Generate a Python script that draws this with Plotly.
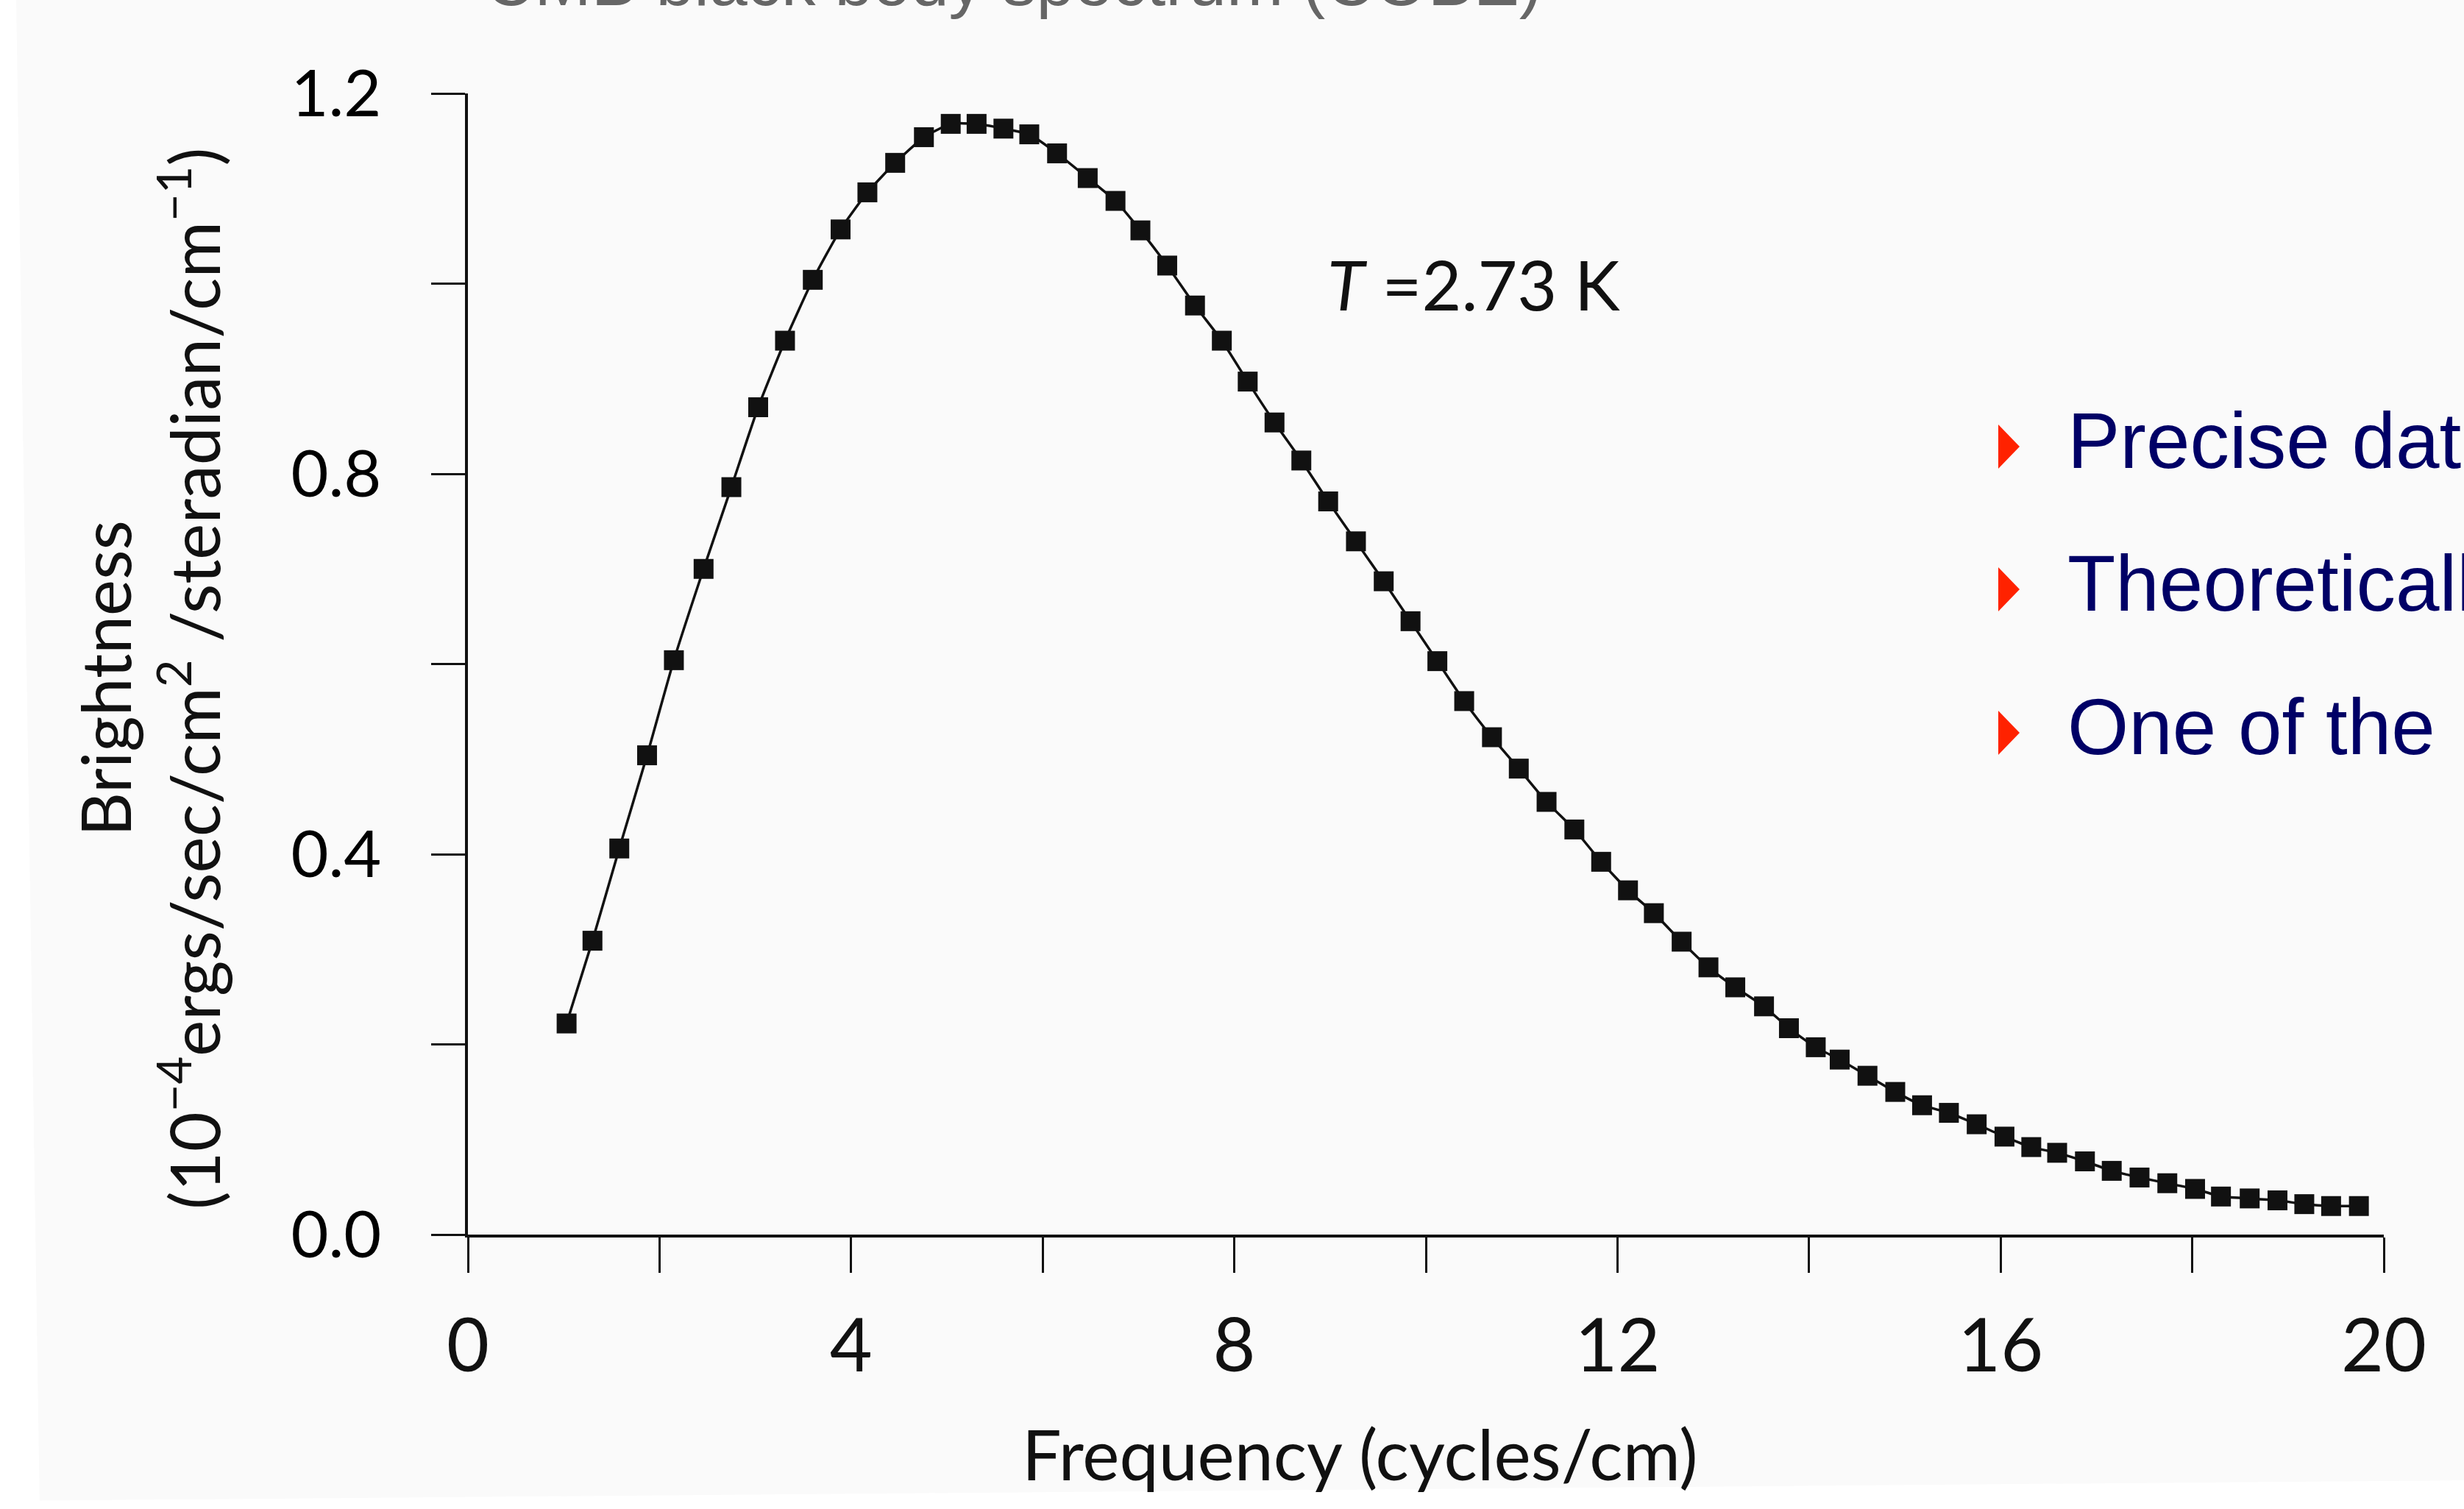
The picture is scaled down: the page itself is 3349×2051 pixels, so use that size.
import plotly.graph_objects as go

# Measured brightness of the cosmic microwave background (COBE), T = 2.73 K
freq = [
    1.03, 1.30, 1.58, 1.87, 2.15, 2.46, 2.75, 3.03, 3.31, 3.60,
    3.89, 4.17, 4.46, 4.76, 5.04, 5.31, 5.59, 5.86, 6.15, 6.47,
    6.76, 7.02, 7.30, 7.59, 7.87, 8.14, 8.42, 8.70, 8.98, 9.27,
    9.56, 9.84, 10.12, 10.40, 10.69, 10.97, 11.26, 11.55, 11.83, 12.11,
    12.38, 12.67, 12.95, 13.23, 13.53, 13.79, 14.07, 14.32, 14.61, 14.90,
    15.18, 15.46, 15.75, 16.04, 16.32, 16.59, 16.88, 17.16, 17.45, 17.74,
    18.03, 18.30, 18.60, 18.89, 19.17, 19.45, 19.74,
]
brightness = [
    0.222, 0.309, 0.406, 0.504, 0.604, 0.700, 0.786, 0.870, 0.940, 1.004,
    1.057, 1.096, 1.127, 1.154, 1.168, 1.168, 1.163, 1.157, 1.137, 1.111,
    1.087, 1.056, 1.019, 0.977, 0.940, 0.897, 0.854, 0.814, 0.771, 0.729,
    0.687, 0.645, 0.603, 0.561, 0.523, 0.490, 0.455, 0.426, 0.392, 0.362,
    0.338, 0.308, 0.281, 0.260, 0.240, 0.217, 0.197, 0.184, 0.167, 0.150,
    0.136, 0.128, 0.116, 0.103, 0.092, 0.086, 0.077, 0.067, 0.060, 0.054,
    0.048, 0.040, 0.038, 0.036, 0.032, 0.030, 0.030,
]

# labelled ticks and the unlabelled ticks between them
x_tick_vals = [0, 4, 8, 12, 16, 20]
x_tick_text = ["0", "4", "8", "12", "16", "20"]
x_minor_vals = [2, 6, 10, 14, 18]
y_tick_vals = [0.0, 0.4, 0.8, 1.2]
y_tick_text = ["0.0", "0.4", "0.8", "1.2"]
y_minor_vals = [0.2, 0.6, 1.0]

bullets = ["Precise data", "Theoretically", "One of the"]

W, H = 3349, 2051
ML, MR, MT, MB = 636, 109, 127, 373
PW, PH = W - ML - MR, H - MT - MB

INK = "#111111"
CHART_FONT = "Lato, Open Sans, sans-serif"
SLIDE_FONT = "Liberation Sans, Arial, Helvetica, sans-serif"


def px_x(px):
    return (px - ML) / PW


def px_y(py):
    return (H - MB - py) / PH


fig = go.Figure()
fig.add_trace(go.Scatter(
    x=freq, y=brightness,
    mode="lines+markers",
    line=dict(color=INK, width=3.5, shape="spline", smoothing=0.5),
    marker=dict(symbol="square", size=27, color=INK),
    cliponaxis=False, showlegend=False, hoverinfo="skip",
))

annotations = [
    dict(text="Frequency (cycles/cm)", x=px_x(1848), y=px_y(1975),
         xref="paper", yref="paper", xanchor="center", yanchor="middle",
         showarrow=False, font=dict(family=CHART_FONT, size=95, color=INK)),
    dict(text="Brightness", x=px_x(142), y=px_y(922),
         xref="paper", yref="paper", xanchor="center", yanchor="middle",
         textangle=-90, showarrow=False,
         font=dict(family=CHART_FONT, size=93, color=INK)),
    dict(text="(10<sup>\u22124</sup>ergs/sec/cm<sup>2</sup> /steradian/cm<sup>\u22121</sup>)",
         x=px_x(257), y=px_y(923),
         xref="paper", yref="paper", xanchor="center", yanchor="middle",
         textangle=-90, showarrow=False,
         font=dict(family=CHART_FONT, size=93, color=INK)),
    dict(text="<i>T</i> =2.73 K", x=8.955, y=1.0, xref="x", yref="y",
         xanchor="left", yanchor="middle", showarrow=False,
         font=dict(family=CHART_FONT, size=93, color=INK)),
    dict(text="CMB black body spectrum (COBE)", x=px_x(657), y=px_y(-25),
         xref="paper", yref="paper", xanchor="left", yanchor="middle",
         showarrow=False, font=dict(family=SLIDE_FONT, size=93, color="#666666")),
]

shapes = [
    # scan border strips
    dict(type="path", xref="paper", yref="paper", layer="below",
         path=f"M {px_x(0)},{px_y(0)} L {px_x(22)},{px_y(0)} L {px_x(54)},{px_y(H)} L {px_x(0)},{px_y(H)} Z",
         fillcolor="#ffffff", line=dict(width=0)),
    dict(type="path", xref="paper", yref="paper", layer="below",
         path=f"M {px_x(0)},{px_y(2040)} L {px_x(W)},{px_y(2012)} L {px_x(W)},{px_y(H)} L {px_x(0)},{px_y(H)} Z",
         fillcolor="#ffffff", line=dict(width=0)),
]

row_centres = [607, 801, 996]
for label, cy in zip(bullets, row_centres):
    annotations.append(dict(
        text=label, x=px_x(2808), y=px_y(cy - 8), xref="paper", yref="paper",
        xanchor="left", yanchor="middle", showarrow=False,
        font=dict(family=SLIDE_FONT, size=107, color="#000066")))
    shapes.append(dict(
        type="path", xref="paper", yref="paper",
        path=(f"M {px_x(2716)},{px_y(cy - 30)} L {px_x(2745)},{px_y(cy)} "
              f"L {px_x(2716)},{px_y(cy + 30)} Z"),
        fillcolor="#ff2200", line=dict(width=0)))

tick_style = dict(ticks="outside", tickwidth=3, tickcolor=INK)

fig.update_layout(
    width=W, height=H,
    margin=dict(l=ML, r=MR, t=MT, b=MB, pad=0),
    paper_bgcolor="#fafafa", plot_bgcolor="#fafafa",
    showlegend=False,
    annotations=annotations,
    shapes=shapes,
    xaxis=dict(
        range=[0, 20], showgrid=False, zeroline=False,
        showline=True, linecolor=INK, linewidth=4,
        ticklen=48, **tick_style,
        tickvals=x_tick_vals, ticktext=x_tick_text,
        minor=dict(tickvals=x_minor_vals, ticklen=48, **tick_style, showgrid=False),
        tickfont=dict(family=CHART_FONT, size=100, color=INK),
        ticklabelstandoff=14,
    ),
    yaxis=dict(
        range=[0, 1.2], showgrid=False, zeroline=False,
        showline=True, linecolor=INK, linewidth=4,
        ticklen=46, **tick_style,
        tickvals=y_tick_vals, ticktext=y_tick_text,
        minor=dict(tickvals=y_minor_vals, ticklen=46, **tick_style, showgrid=False),
        tickfont=dict(family=CHART_FONT, size=88, color="#000000"),
        ticklabelstandoff=50,
    ),
)

fig.write_html("out.html")
